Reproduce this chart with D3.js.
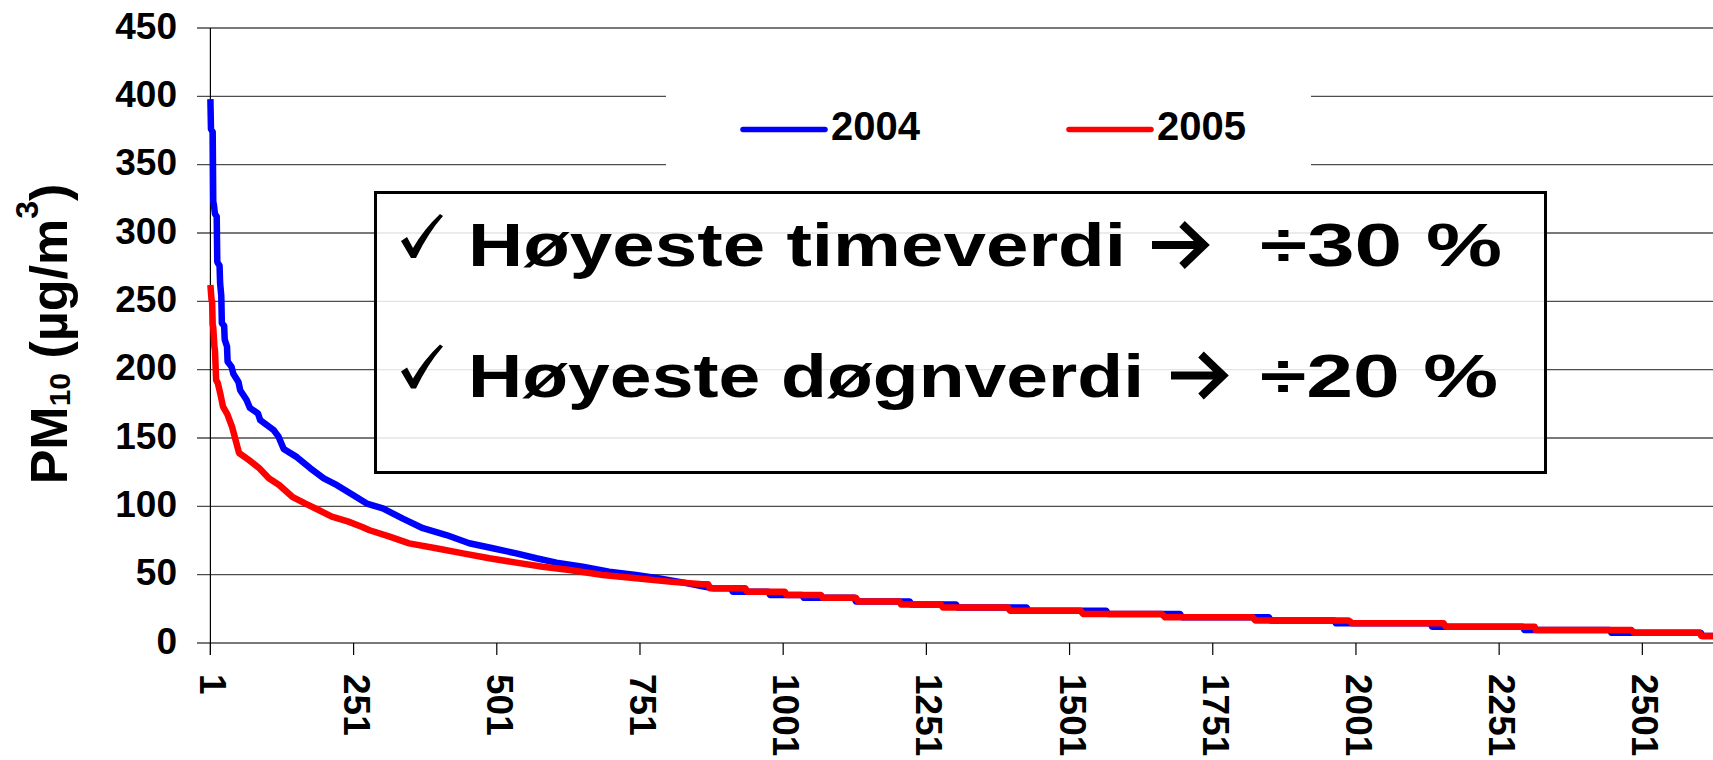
<!DOCTYPE html>
<html>
<head>
<meta charset="utf-8">
<script src="https://cdn.jsdelivr.net/npm/d3@7.8.5/dist/d3.min.js"></script>
<style>
  body { margin: 0; background: #fff; }
  svg { display: block; }
  text { font-family: "Liberation Sans", Arial, sans-serif; font-weight: bold; }
</style>
</head>
<body>
<svg width="1713" height="760"></svg>
<script>
// duration curves of hourly PM10 (rank, value)
const ranks2004 = [1, 2, 5, 6, 7, 9, 12, 13, 14, 17, 18, 20, 21, 25, 26, 30, 31, 38, 41, 50, 53, 64, 70, 84, 88, 111, 120, 129, 152, 175, 199, 222, 245, 274, 302, 337, 372, 413, 453, 494, 535, 570, 605, 651, 697, 744, 785, 830, 860, 880, 910, 913, 975, 978, 1034, 1037, 1125, 1128, 1222, 1225, 1303, 1306, 1426, 1429, 1565, 1568, 1694, 1697, 1849, 1852, 1963, 1966, 2131, 2134, 2292, 2295, 2444, 2447, 2603, 2606, 2625];
const pm2004 = [398, 376, 374, 323, 321, 314, 312, 279, 278, 276, 263, 254, 234, 232, 222, 217, 206, 202, 197, 191, 185, 178, 172, 168, 163, 156, 151, 142, 136, 128, 120.5, 115.5, 109.5, 102, 98.5, 91, 84, 79, 73, 69.3, 65.6, 62, 58.8, 55.8, 52.2, 49.8, 47.3, 44, 41.5, 40, 40, 37.5, 37.5, 35.1, 35.1, 33.1, 33.1, 30.4, 30.4, 28.1, 28.1, 26, 26, 23.6, 23.6, 21.2, 21.2, 18.8, 18.8, 16.5, 16.5, 14.4, 14.4, 11.9, 11.9, 9.5, 9.5, 7.5, 7.5, 5.1, 5.1];

const ranks2005 = [1, 3, 4, 5, 6, 8, 9, 11, 14, 18, 23, 31, 39, 45, 51, 68, 86, 103, 121, 144, 167, 190, 213, 242, 265, 279, 314, 348, 395, 442, 488, 535, 581, 628, 686, 744, 802, 860, 870, 873, 935, 938, 1004, 1007, 1067, 1070, 1128, 1132, 1204, 1207, 1276, 1280, 1393, 1397, 1520, 1525, 1662, 1668, 1821, 1825, 1988, 1995, 2154, 2158, 2313, 2315, 2482, 2486, 2601, 2604, 2625];
const pm2005 = [262, 251, 250, 233, 231, 217, 214, 192.5, 190, 183, 173, 167, 158, 148.5, 139, 134, 128, 120.5, 115.6, 107, 102, 97.3, 92.4, 88.8, 85.1, 82.5, 77.8, 72.9, 69.3, 65.6, 62, 58.8, 55.8, 53.4, 49.8, 47.3, 44.9, 43, 43, 40, 40, 37.5, 37.5, 35.1, 35.1, 33.1, 33.1, 30.4, 30.4, 28.1, 28.1, 26, 26, 23.6, 23.6, 21.2, 21.2, 18.8, 18.8, 16.5, 16.5, 14.4, 14.4, 11.9, 11.9, 9.5, 9.5, 7.5, 7.5, 5.1, 5.1];

const yTicks = [0, 50, 100, 150, 200, 250, 300, 350, 400, 450];
const xTicks = [1, 251, 501, 751, 1001, 1251, 1501, 1751, 2001, 2251, 2501];
const seriesNames = ["2004", "2005"];
const seriesColors = ["#0000ff", "#ff0000"];
const noteLines = [
  { text: "Høyeste timeverdi", pct: "÷30 %" },
  { text: "Høyeste døgnverdi", pct: "÷20 %" },
];

const svg = d3.select("svg");

const x = d3.scaleLinear().domain([1, 2620]).range([210.4, 1710.5]);
const y = d3.scaleLinear().domain([0, 450]).range([643, 28]);

// gridlines
svg.append("g")
  .selectAll("line")
  .data(yTicks)
  .join("line")
  .attr("x1", 197)
  .attr("x2", 1713)
  .attr("y1", (d) => y(d))
  .attr("y2", (d) => y(d))
  .attr("stroke", "#4d4d4d")
  .attr("stroke-width", 1.3);

// y labels
svg.append("g")
  .selectAll("text")
  .data(yTicks)
  .join("text")
  .attr("x", 177)
  .attr("y", (d) => y(d) + 10.5)
  .attr("text-anchor", "end")
  .attr("font-size", 37)
  .text((d) => d);

// y axis line
svg.append("line")
  .attr("x1", x(1)).attr("x2", x(1))
  .attr("y1", y(450)).attr("y2", y(0) + 12)
  .attr("stroke", "#000").attr("stroke-width", 1.2);

// x ticks
svg.append("g")
  .selectAll("line")
  .data(xTicks)
  .join("line")
  .attr("x1", (d) => x(d)).attr("x2", (d) => x(d))
  .attr("y1", y(0)).attr("y2", y(0) + 12)
  .attr("stroke", "#000").attr("stroke-width", 1.2);

svg.append("g")
  .selectAll("text")
  .data(xTicks)
  .join("text")
  .attr("transform", (d) => `translate(${x(d)},${674}) rotate(90)`)
  .attr("dy", 10)
  .attr("text-anchor", "start")
  .attr("font-size", 37)
  .text((d) => d);

// y title
const title = svg.append("text")
  .attr("transform", "translate(67,334) rotate(-90)")
  .attr("text-anchor", "middle")
  .attr("font-size", 52);
title.append("tspan").text("PM");
title.append("tspan").attr("font-size", 30).attr("dy", 3).text("10");
title.append("tspan").attr("dy", -3).text(" (µg/m");
title.append("tspan").attr("font-size", 32).attr("dy", -29).text("3");
title.append("tspan").attr("dy", 29).text(")");

// curves
svg.append("clipPath").attr("id", "plot")
  .append("rect").attr("x", 0).attr("y", 0).attr("width", 1713).attr("height", 760);

const line = d3.line().x((d) => x(d[0])).y((d) => y(d[1]));
const series = [
  d3.zip(ranks2004, pm2004),
  d3.zip(ranks2005, pm2005),
];
svg.append("g")
  .attr("clip-path", "url(#plot)")
  .selectAll("path")
  .data(series)
  .join("path")
  .attr("d", line)
  .attr("fill", "none")
  .attr("stroke", (d, i) => seriesColors[i])
  .attr("stroke-width", 6.5)
  .attr("stroke-linejoin", "round");

// legend
svg.append("rect")
  .attr("x", 666).attr("y", 50).attr("width", 645).attr("height", 150)
  .attr("fill", "#fff");
const legendX = [743, 1069];
seriesNames.forEach((name, i) => {
  svg.append("line")
    .attr("x1", legendX[i]).attr("x2", legendX[i] + 82)
    .attr("y1", 129.5).attr("y2", 129.5)
    .attr("stroke", seriesColors[i]).attr("stroke-width", 5.5)
    .attr("stroke-linecap", "round");
  svg.append("text")
    .attr("x", legendX[i] + 88).attr("y", 139.5)
    .attr("font-size", 40)
    .text(name);
});

// note box
svg.append("rect")
  .attr("x", 375.5).attr("y", 192.5).attr("width", 1170).attr("height", 280)
  .attr("fill", "#fff").attr("fill-opacity", 0.85)
  .attr("stroke", "#000").attr("stroke-width", 3);

const baselines = [266, 396.5];
const arrowX = [1152, 1171];
noteLines.forEach((d, i) => {
  const b = baselines[i];
  // thin calligraphic tick
  svg.append("path")
    .attr("transform", `translate(0,${b - 266})`)
    .attr("d", "M401,241 L407,237 L413,248 Q424,229 440,214 L443,216 Q428,233 416,258 L411,258 Z")
    .attr("fill", "#000");
  svg.append("text")
    .attr("x", 468).attr("y", b)
    .attr("font-size", 62)
    .attr("textLength", i === 0 ? 658 : 676)
    .attr("lengthAdjust", "spacingAndGlyphs")
    .text(d.text);
  const ax = arrowX[i], yc = b - 21;
  svg.append("path")
    .attr("d", `M${ax},${yc}H${ax + 50}M${ax + 30},${yc - 21}L${ax + 52},${yc}L${ax + 30},${yc + 21}`)
    .attr("fill", "none").attr("stroke", "#000").attr("stroke-width", 8);
  svg.append("text")
    .attr("x", 1260).attr("y", b)
    .attr("font-size", 62)
    .attr("textLength", i === 0 ? 242 : 238)
    .attr("lengthAdjust", "spacingAndGlyphs")
    .text(d.pct);
});
</script>
</body>
</html>
